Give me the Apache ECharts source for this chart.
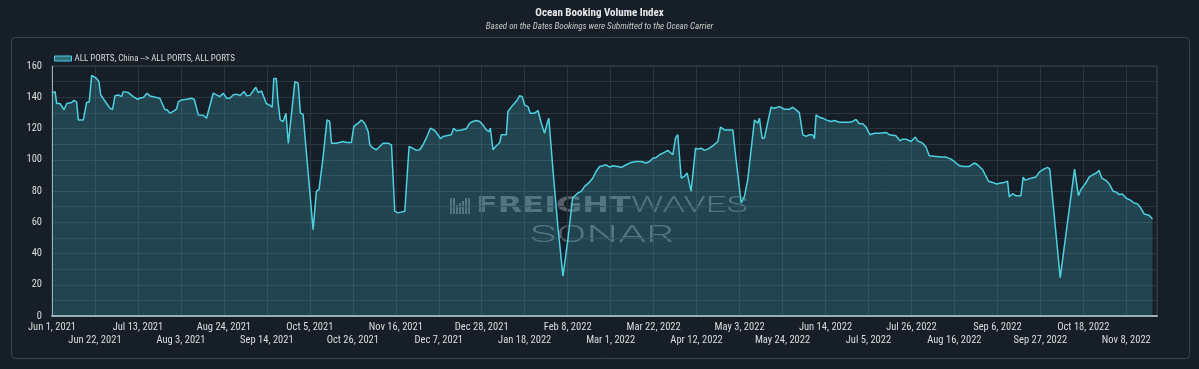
<!DOCTYPE html>
<html>
<head>
<meta charset="utf-8">
<script src="https://cdn.jsdelivr.net/npm/echarts@6/dist/echarts.min.js"></script>
<style>
html,body{margin:0;padding:0;background:#161f28;}
#chart{width:1199px;height:369px;}
</style>
</head>
<body>
<div id="chart"></div>
<script>
// ---- data ----
const seriesName = 'ALL PORTS, China --> ALL PORTS, ALL PORTS';
const startDate = 'Jun 1, 2021';
// x tick labels, one every 21 days starting Jun 1, 2021
const tickLabels = ['Jun 1, 2021','Jun 22, 2021','Jul 13, 2021','Aug 3, 2021','Aug 24, 2021','Sep 14, 2021',
  'Oct 5, 2021','Oct 26, 2021','Nov 16, 2021','Dec 7, 2021','Dec 28, 2021','Jan 18, 2022','Feb 8, 2022',
  'Mar 1, 2022','Mar 22, 2022','Apr 12, 2022','May 3, 2022','May 24, 2022','Jun 14, 2022','Jul 5, 2022',
  'Jul 26, 2022','Aug 16, 2022','Sep 6, 2022','Sep 27, 2022','Oct 18, 2022','Nov 8, 2022'];
const yTickLabels = [0,20,40,60,80,100,120,140,160];
// days since Jun 1, 2021
const dayOffsets = [0,1.5,2.3,3.9,4.7,5.9,7.2,9.6,10.7,12,12.9,15.3,16.1,16.9,18.2,19.4,21.8,22.9,23.8,26.7,28.3,29.6,30.8,32.4,34,34.8,37.3,39.7,41.8,43,44.6,46.5,47.9,52.7,55.2,56.3,57.6,59.2,60.9,61.7,63.3,65.8,68.2,69.5,71.5,72.3,73.9,75.5,78.8,80.4,82,83.7,85.3,86.9,88.5,90.2,91.8,93.9,95.1,96.7,98.3,99.6,100.7,102.4,103.2,104.7,106.3,107.6,108.4,109.6,110.4,111.5,113,114.3,115.5,118.7,120.3,121.4,122.7,127.6,129.2,130.5,132.5,134.4,135.7,136.6,139,139.8,142.3,143.9,146.3,147.5,149.6,151.2,152.8,154.5,155.3,156.9,158.5,160.2,161.8,164.2,165.9,167.5,169.1,172.4,174.5,176.1,178.1,179.7,181.3,182.9,184.9,187,188.6,189.9,191.1,192.7,195.1,196.3,197.6,200,202.5,204.1,205.7,207.4,209,210.6,212.2,213.5,214.2,215.5,216.8,218.8,219.6,220.4,222,222.8,225.3,227.2,228.5,229.7,231,232.6,233.7,235.8,237.5,239.1,240.7,242,242.8,244.8,247.2,249.7,252.1,254.4,257,258.6,260.3,262.7,264.3,265.9,267.6,269.2,270.8,272.5,274.1,276.5,278.2,280.6,283,285.5,287.9,290.4,292,293.6,295.3,296.9,299.3,300.9,303.4,304.7,305.8,307.5,309.1,310.4,312.3,314.5,315.6,317.2,318.8,320.5,322.9,325.4,326.7,328.6,331.1,332.7,334.3,336.8,338.4,340,340.8,343.3,344.1,344.9,345.7,347,348.1,351.4,353,355.5,356.3,357.9,360.4,362,363.6,365.2,366.9,368.5,370.1,371.7,372.6,373.4,375,376.6,378.3,380.7,382.3,384.8,387.2,389.7,391.3,392.9,394.5,396.2,397.8,399.7,401.9,404.3,407.6,409.2,412.4,414.4,415.7,417.3,419.8,421.9,423,425.5,427.1,428.7,432,434.4,436.9,439.3,440.9,443.4,445.8,448.2,450.7,452.3,454.8,457.7,459.6,461.6,463.7,465.3,467,467.8,469.4,471,473.5,474.6,475.6,477.5,480.8,482.4,484.1,486.5,487.6,492.7,499.7,501.6,502.8,505.2,506.8,507.7,509.3,510.4,511.7,513,515,516.6,518.6,519.9,521.5,523.1,524.8,527.2,528.8,530.4,532.1,533.7,534.5,536.1,537.8];
const indexValues = [142.6,143.6,136,136,135,132,136,136.6,138,137,125.5,125.5,126.6,136.6,137,154,152,150,141.5,136,133,132.3,141,141.5,140.4,143.6,143,140.4,138.7,139.5,139.8,142.5,140.8,139.4,132,132,129.8,131,132.5,137,138.3,138.7,139.4,138.7,128.7,129.4,128.5,126.6,142.6,141.5,140.4,142.6,139.4,139.4,141.5,142,141,143.6,141,141.2,144,146.4,143,144,143.6,136,135,133.6,152,152,138,125.5,124.5,129.8,110.4,150,149,129.8,129,55.3,79.8,81,102,125.5,124.5,110.6,110.6,110,111.7,111,111,121.3,123.4,125.5,123.4,118,109.6,107.4,106.4,108.5,110.6,110.6,109.5,67,66,67,108.5,107.4,106,106.4,109.6,113.8,120.2,118.7,116,113.4,114.9,115.3,116,120.2,118.5,119.1,119.8,123.4,124.5,125.1,124.5,122.3,119.1,118,120.2,106.4,108.5,111,116,117,116,130.9,135.1,137.9,140.9,140.5,135,134,129.8,129.8,131.5,123.4,117,123.4,126.6,93.6,57.4,25.5,48.9,75.5,78.7,79.8,83,85.7,88.3,92.6,95.7,96.2,96.8,95.3,96.2,95.7,95.1,96.8,98.3,98.9,98.9,97.9,98.9,101,101.5,103.2,104.7,106,103.2,113.8,116,88.3,89.4,91.5,79.8,107.4,106.8,107.4,106,106.8,108.9,111.7,120.9,119.1,119.1,119.1,100,72.3,76.6,87.2,88.3,125.5,126.6,123.4,126.6,113.8,113.8,133.6,133,134,134,132.3,132.3,133.6,131.9,130.2,116,115,116,116,113.4,128.7,127.2,126.6,125.5,124.5,125.1,124,124,124,124.5,125.8,123,123,121,116,117,117,117.5,116,115.3,112.1,113.2,113.2,111.7,114.5,112.1,110.6,108.1,102.6,102.1,101.7,101.7,100.4,98.9,96.2,95.7,95.7,97.9,96.8,93.6,86.2,85.5,84.5,85.1,85.5,86.2,76.2,78.3,77,77,88.9,86.8,87.9,88.9,91.9,93.6,95.1,94,24.5,94,77,80.9,85.1,88.9,88.3,90.9,91.5,93.2,88.3,86.8,84.7,79.8,79.4,77.7,78.1,75.5,74,72.3,71.9,69.1,65.3,64.3,64.5,62.1];

// ---- chart ----
const FONT = "'Roboto Condensed', 'Liberation Sans Narrow', 'DejaVu Sans Condensed', Roboto, sans-serif";
const LINE = '#4dd0e1';
const WM = 'rgba(195,210,215,0.36)';
const chart = echarts.init(document.getElementById('chart'), null, {renderer: 'canvas'});
const seriesData = dayOffsets.map((d, i) => [d, indexValues[i]]);

function dateLabel(v, row) {
  const i = Math.round(v / 21);
  return (i % 2 === row) ? (tickLabels[i] || '') : '';
}

const xLabelBase = {fontFamily: FONT, fontSize: 10.5, color: '#dcdcdc', hideOverlap: false, showMaxLabel: false};

const option = {
  backgroundColor: '#161f28',
  animation: false,
  textStyle: {fontFamily: FONT},
  title: {
    text: 'Ocean Booking Volume Index',
    subtext: 'Based on the Dates Bookings were Submitted to the Ocean Carrier',
    left: 'center', top: 3, itemGap: 3,
    textStyle: {fontFamily: FONT, fontSize: 11, fontWeight: 'bold', color: '#e8e8e8'},
    subtextStyle: {fontFamily: FONT, fontSize: 9, fontStyle: 'italic', color: '#c9c9c9'}
  },
  legend: {
    left: 49, top: 49, itemWidth: 17, itemHeight: 5, icon: 'rect',
    textStyle: {fontFamily: FONT, fontSize: 9, color: '#d6d6d6', padding: [0, 0, 0, -2]},
    data: [{name: seriesName, itemStyle: {color: 'rgba(77,208,225,0.45)', borderColor: LINE, borderWidth: 1}}]
  },
  grid: {left: 52, right: 42, top: 66, bottom: 53, show: true, borderColor: '#3b4650', borderWidth: 1},
  xAxis: [{
    type: 'value', min: 0, max: 540, interval: 21,
    axisLine: {show: true, onZero: false, lineStyle: {color: '#a3adb3', width: 2}},
    axisTick: {show: false},
    splitLine: {show: true, lineStyle: {color: '#2a3540', width: 1}},
    axisLabel: Object.assign({}, xLabelBase, {showMinLabel: true, margin: 6,
      formatter: function (v) { return dateLabel(v, 0); }})
  }, {
    type: 'value', min: 0, max: 540, interval: 21, position: 'bottom',
    axisLine: {show: false}, axisTick: {show: false}, splitLine: {show: false},
    axisLabel: Object.assign({}, xLabelBase, {showMinLabel: false, margin: 19,
      formatter: function (v) { return dateLabel(v, 1); }})
  }],
  yAxis: {
    type: 'value', min: 0, max: 160, interval: 10,
    axisLine: {show: true, lineStyle: {color: '#a3adb3', width: 1}},
    axisTick: {show: false},
    splitLine: {show: true, lineStyle: {color: '#2a3540', width: 1}},
    axisLabel: {
      margin: 10, fontFamily: FONT, fontSize: 10.5, color: '#dcdcdc',
      formatter: function (v) { return yTickLabels.indexOf(v) >= 0 ? String(v) : ''; }
    }
  },
  graphic: [
    {type: 'rect', shape: {x: 11.5, y: 37.5, width: 1178, height: 321, r: 4}, style: {fill: null, stroke: '#3a444d', lineWidth: 1}, z: 0, silent: true},
    {type: 'group', z: 100, silent: true, children: [
      {type: 'rect', shape: {x: 450, y: 198, width: 2, height: 16}, style: {fill: WM}},
      {type: 'rect', shape: {x: 453, y: 198, width: 2, height: 16}, style: {fill: WM}},
      {type: 'rect', shape: {x: 456, y: 205, width: 2, height: 9}, style: {fill: WM}},
      {type: 'rect', shape: {x: 459, y: 203, width: 2, height: 11}, style: {fill: WM}},
      {type: 'rect', shape: {x: 462, y: 201, width: 2, height: 13}, style: {fill: WM}},
      {type: 'rect', shape: {x: 465, y: 198, width: 2, height: 16}, style: {fill: WM}},
      {type: 'rect', shape: {x: 468, y: 198, width: 2, height: 16}, style: {fill: WM}},
      {type: 'text', x: 476, y: 206, scaleX: 1.45, style: {text: 'FREIGHT', fill: WM, font: "bold 22px 'DejaVu Sans', sans-serif", verticalAlign: 'middle', align: 'left'}},
      {type: 'text', x: 631, y: 206, scaleX: 1.64, style: {text: 'WAVES', fill: WM, font: "300 22px Roboto, sans-serif", verticalAlign: 'middle', align: 'left'}},
      {type: 'text', x: 530, y: 236, scaleX: 1.85, style: {text: 'SONAR', fill: WM, font: "300 24px Roboto, sans-serif", verticalAlign: 'middle', align: 'left'}}
    ]}
  ],
  series: [{
    name: seriesName, type: 'line', xAxisIndex: 0, data: seriesData, showSymbol: false, symbol: 'none',
    lineStyle: {color: LINE, width: 1.5},
    itemStyle: {color: LINE},
    areaStyle: {color: 'rgba(77,208,225,0.30)'}
  }]
};
chart.setOption(option);
</script>
</body>
</html>
